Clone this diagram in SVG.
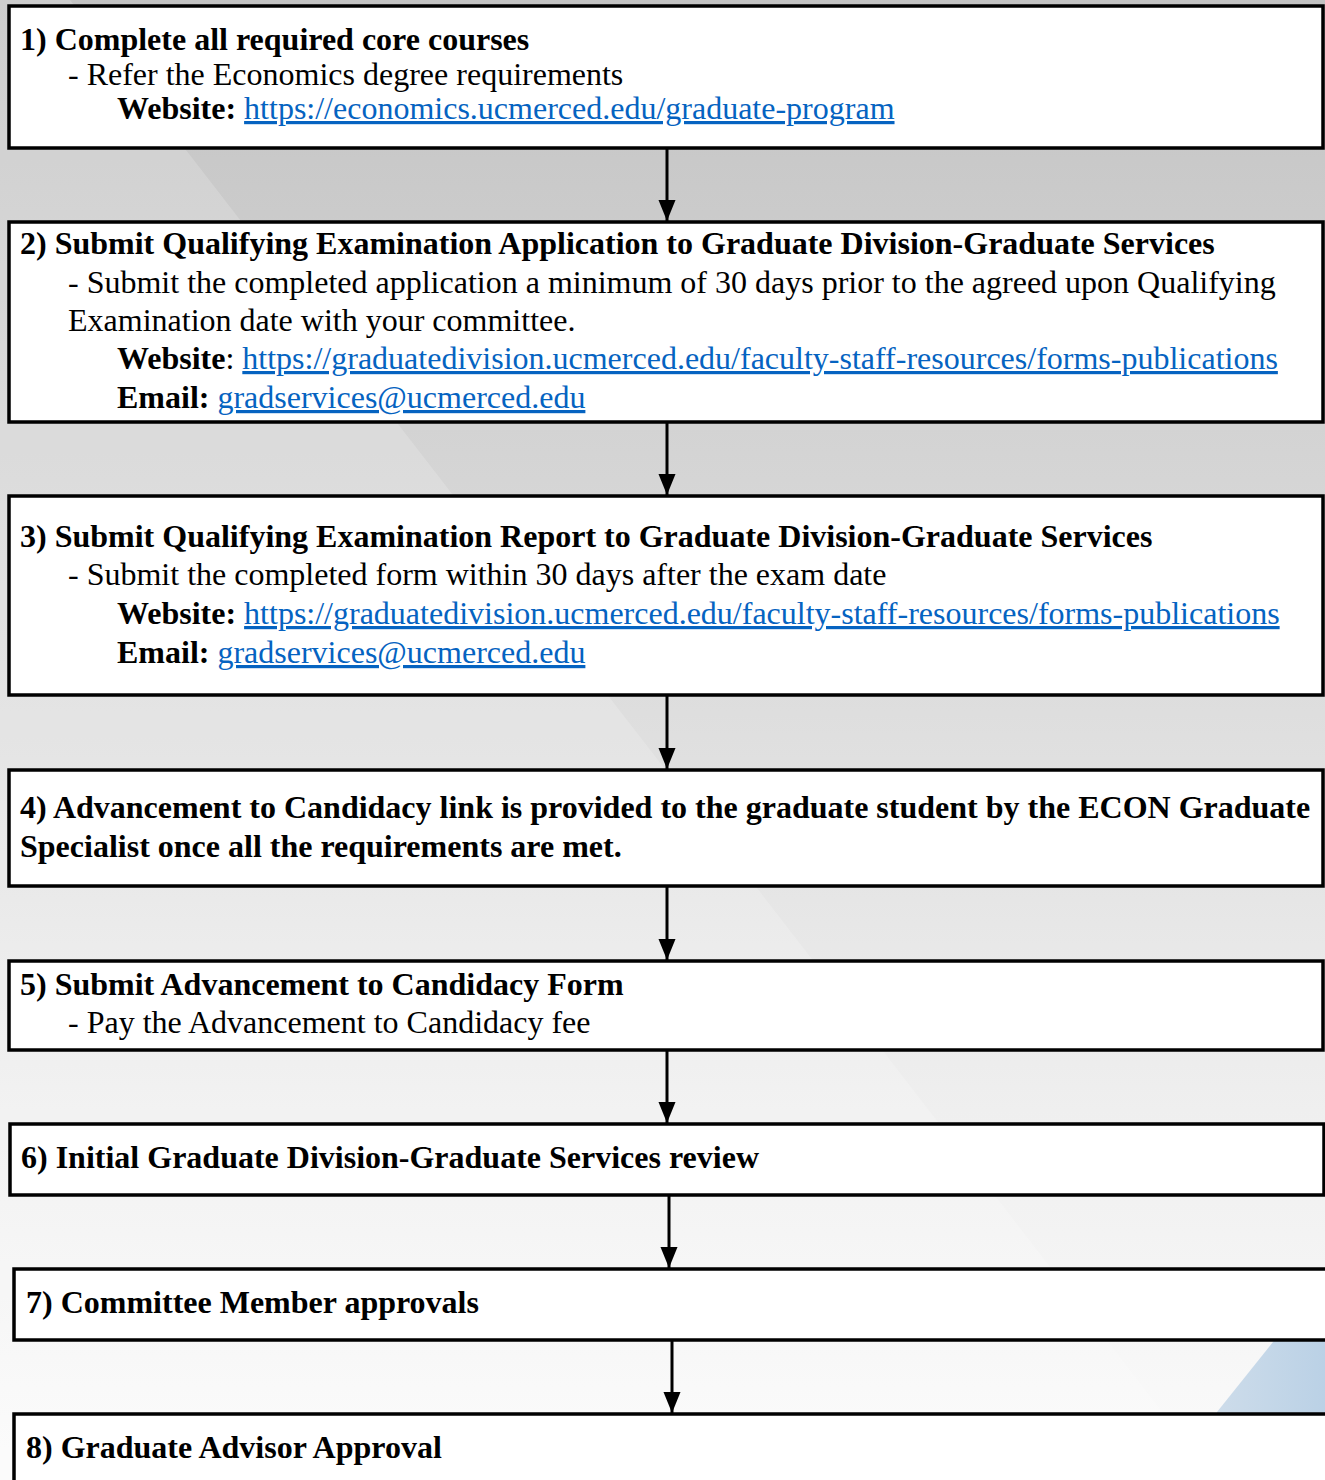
<svg xmlns="http://www.w3.org/2000/svg" width="1325" height="1480" viewBox="0 0 1325 1480">
<defs>
<linearGradient id="bg" x1="0" y1="0" x2="0" y2="1">
<stop offset="0" stop-color="#c3c3c3"/>
<stop offset="0.45" stop-color="#dcdcdc"/>
<stop offset="0.75" stop-color="#efefef"/>
<stop offset="1" stop-color="#fbfbfb"/>
</linearGradient>
<linearGradient id="blue" x1="0" y1="0" x2="1" y2="0">
<stop offset="0" stop-color="#cddcea"/>
<stop offset="1" stop-color="#b7cfe5"/>
</linearGradient>
<marker id="ah" viewBox="0 0 21 17" refX="21" refY="8.5" markerWidth="7" markerHeight="5.67" markerUnits="strokeWidth" orient="auto">
<path d="M0,0 L21,8.5 L0,17 z" fill="#000"/>
</marker>
<style>
.box{fill:#fff;stroke:#000;stroke-width:3.5}
.t{font-family:"Liberation Serif","Times New Roman",serif;font-size:32px;fill:#000}
.b{font-weight:bold}
.lk{fill:#0563c1;text-decoration:underline}
.c{stroke:#000;stroke-width:3;fill:none}
</style>
</defs>
<g id="background">
<rect x="0" y="0" width="1325" height="1480" fill="url(#bg)"/>
<polygon points="0,0 70,0 1215,1480 0,1480" fill="#ffffff" opacity="0.18"/>
<polygon points="1217,1412 1345,1252 1345,1480 1217,1480" fill="url(#blue)"/>
</g>
<g id="connectors">
<line class="c" x1="667" y1="148" x2="667" y2="221" marker-end="url(#ah)"/>
<line class="c" x1="667" y1="422" x2="667" y2="495" marker-end="url(#ah)"/>
<line class="c" x1="667" y1="695" x2="667" y2="769" marker-end="url(#ah)"/>
<line class="c" x1="667" y1="886" x2="667" y2="960" marker-end="url(#ah)"/>
<line class="c" x1="667" y1="1050" x2="667" y2="1123" marker-end="url(#ah)"/>
<line class="c" x1="669" y1="1195" x2="669" y2="1268" marker-end="url(#ah)"/>
<line class="c" x1="672" y1="1340" x2="672" y2="1413" marker-end="url(#ah)"/>
</g>
<g id="node1">
<rect class="box" x="9" y="6" width="1314" height="142"/>
<text class="t b" x="20" y="50">1) Complete all required core courses</text>
<text class="t" x="68" y="85">- Refer the Economics degree requirements</text>
<text class="t" x="117" y="119"><tspan class="b">Website:</tspan> <tspan class="lk">https://economics.ucmerced.edu/graduate-program</tspan></text>
</g>
<g id="node2">
<rect class="box" x="9" y="222" width="1314" height="200"/>
<text class="t b" x="20" y="254">2) Submit Qualifying Examination Application to Graduate Division-Graduate Services</text>
<text class="t" x="68" y="293">- Submit the completed application a minimum of 30 days prior to the agreed upon Qualifying</text>
<text class="t" x="68" y="331">Examination date with your committee.</text>
<text class="t" x="117" y="369"><tspan class="b">Website</tspan>: <tspan class="lk">https://graduatedivision.ucmerced.edu/faculty-staff-resources/forms-publications</tspan></text>
<text class="t" x="117" y="408"><tspan class="b">Email:</tspan> <tspan class="lk">gradservices@ucmerced.edu</tspan></text>
</g>
<g id="node3">
<rect class="box" x="9" y="496" width="1314" height="199"/>
<text class="t b" x="20" y="547">3) Submit Qualifying Examination Report to Graduate Division-Graduate Services</text>
<text class="t" x="68" y="585">- Submit the completed form within 30 days after the exam date</text>
<text class="t" x="117" y="624"><tspan class="b">Website:</tspan> <tspan class="lk">https://graduatedivision.ucmerced.edu/faculty-staff-resources/forms-publications</tspan></text>
<text class="t" x="117" y="663"><tspan class="b">Email:</tspan> <tspan class="lk">gradservices@ucmerced.edu</tspan></text>
</g>
<g id="node4">
<rect class="box" x="9" y="770" width="1314" height="116"/>
<text class="t b" x="20" y="818">4) Advancement to Candidacy link is provided to the graduate student by the ECON Graduate</text>
<text class="t b" x="20" y="857">Specialist once all the requirements are met.</text>
</g>
<g id="node5">
<rect class="box" x="9" y="961" width="1314" height="89"/>
<text class="t b" x="20" y="995">5) Submit Advancement to Candidacy Form</text>
<text class="t" x="68" y="1033">- Pay the Advancement to Candidacy fee</text>
</g>
<g id="node6">
<rect class="box" x="10" y="1124" width="1314" height="71"/>
<text class="t b" x="21" y="1168">6) Initial Graduate Division-Graduate Services review</text>
</g>
<g id="node7">
<rect class="box" x="14" y="1269" width="1320" height="71"/>
<text class="t b" x="26" y="1313">7) Committee Member approvals</text>
</g>
<g id="node8">
<rect class="box" x="14" y="1414" width="1320" height="80"/>
<text class="t b" x="26" y="1458">8) Graduate Advisor Approval</text>
</g>
</svg>
